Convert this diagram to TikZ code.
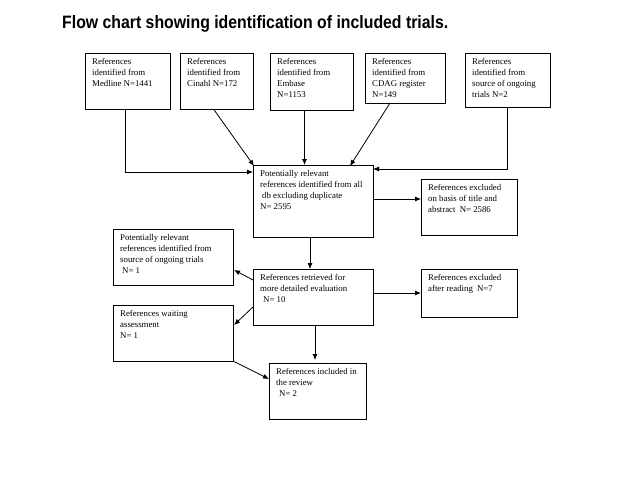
\documentclass[tikz,border=0pt]{standalone}
\usepackage{fontspec}
\usepackage{graphicx}
\setmainfont{Liberation Serif}
\newfontfamily\titlefont{Liberation Sans}
\usetikzlibrary{arrows.meta,calc}
\tikzset{
  box/.style={draw, line width=0.8pt, anchor=north west, inner sep=0pt, outer sep=0pt},
  txt/.style={anchor=north west, align=left, inner sep=0pt, font=\fontsize{8.8}{11}\selectfont},
  arr/.style={line width=0.8pt, -{Latex[length=6pt,width=5pt]}},
}
\newcommand\flowbox[6]{%
  \node[box, minimum width=#4pt, minimum height=#5pt] (#1) at (#2,#3) {};
  \node[txt] (#1-t) at ([shift={(7pt,-5pt)}]#1.north west) {#6};
}
\begin{document}
\begin{tikzpicture}[x=1pt,y=-1pt]
\useasboundingbox[fill=white] (0,0) rectangle (640,480);
\node[anchor=base west, inner sep=0pt] (title) at (62,28) {\resizebox{386pt}{13pt}{\titlefont\bfseries Flow chart showing identification of included trials.}};

\flowbox{med}{85}{53}{85}{56}{References\\identified from\\Medline N=1441}
\flowbox{cin}{180}{53}{73}{56}{References\\identified from\\Cinahl N=172}
\flowbox{emb}{270}{53}{83}{57}{References\\identified from\\Embase\\N=1153}
\flowbox{cdag}{365}{53}{80}{50}{References\\identified from\\CDAG register\\N=149}
\flowbox{src}{465}{53}{85}{54}{References\\identified from\\source of ongoing\\trials N=2}

\flowbox{ctr}{253}{165}{120}{72}{Potentially relevant\\references identified from all\\\hspace{2pt}db excluding duplicate\\N= 2595}
\flowbox{exa}{421}{179}{96}{56}{References excluded\\on basis of title and\\abstract\hspace{2pt} N= 2586}
\flowbox{pot}{113}{229}{120}{56}{Potentially relevant\\references identified from\\source of ongoing trials\\\hspace{2pt}N= 1}
\flowbox{ret}{253}{269}{120}{56}{References retrieved for\\more detailed evaluation\\\hspace{3pt}N= 10}
\flowbox{exb}{421}{269}{96}{48}{References excluded\\after reading\hspace{2pt} N=7}
\flowbox{wait}{113}{305}{120}{56}{References waiting\\assessment\\N= 1}
\flowbox{inc}{269}{363}{97}{56}{References included in\\the review\\\hspace{3pt}N= 2}

\draw[arr] ([xshift=-2pt]med.south) |- ([yshift=-7pt]ctr.north west);
\draw[arr] ([xshift=-3pt]cin.south) -- ([xshift=1pt,yshift=-1pt]ctr.north west);
\draw[arr] ([xshift=-7pt]emb.south) -- ([xshift=-7pt]emb.south |- ctr.north);
\draw[arr] ([xshift=-15pt]cdag.south) -- ([xshift=-23pt,yshift=-1pt]ctr.north east);
\draw[arr] (src.south) |- ([yshift=-4pt]ctr.north east);
\draw[arr] ([yshift=-34pt]ctr.north east) -- ([yshift=-34pt]ctr.north east -| exa.west);
\draw[arr] ([xshift=-3pt]ctr.south) -- ([xshift=-3pt]ctr.south |- ret.north);
\draw[arr] ([yshift=-11pt]ret.north west) -- ([yshift=-41pt,xshift=1pt]pot.north east);
\draw[arr] (exb.west -| ret.east) -- (exb.west);
\draw[arr] ([yshift=-38pt]ret.north west) -- ([yshift=-20pt,xshift=1pt]wait.north east);
\draw[arr] ([xshift=2pt]ret.south) -- ([xshift=2pt,yshift=3pt]ret.south |- inc.north);
\draw[arr] (wait.south east) -- ([yshift=-16pt]inc.north west);
\end{tikzpicture}
\end{document}
